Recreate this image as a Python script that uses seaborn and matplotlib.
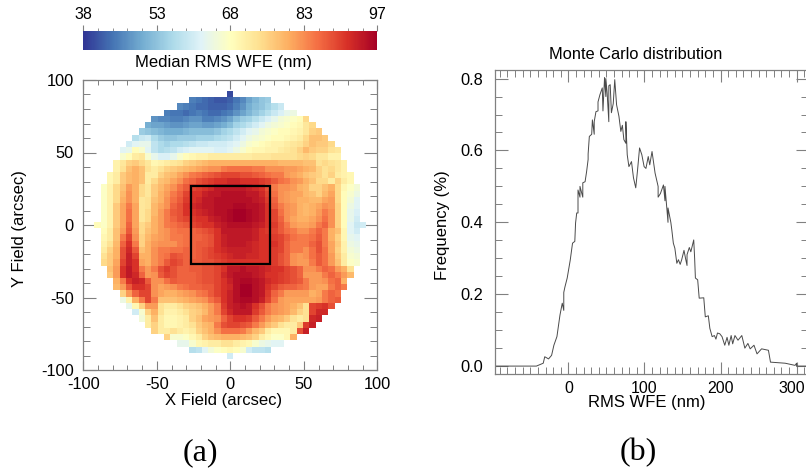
import numpy as np
import pandas as pd
import matplotlib
matplotlib.use("Agg")
import matplotlib.pyplot as plt
from matplotlib.patches import Rectangle
from matplotlib.ticker import MultipleLocator, FixedLocator
from matplotlib.transforms import ScaledTranslation
import seaborn as sns

# --- data ---
# median WFE map, rows top to bottom, each row centred on the middle column
WFE_ROWS = [
    [40],
    [45,44,43,42,41,41,42,44,46,49,51,53,54],
    [46,45,44,43,43,42,42,42,43,45,47,50,52,53,55,57,59],
    [45,44,44,43,44,45,44,43,43,44,45,47,49,51,53,55,57,59,61,63,64],
    [47,46,46,45,45,46,47,47,45,45,46,47,49,52,54,55,57,59,61,63,65,66,67,68,74],
    [50,49,49,48,47,47,48,49,49,48,48,49,50,52,55,56,58,60,62,64,65,66,67,68,69,72,74],
    [54,53,52,51,50,50,50,51,52,52,52,52,53,55,56,58,60,62,63,65,66,67,68,68,69,70,72,75,76],
    [57,59,60,56,54,53,53,54,54,54,55,55,55,56,57,58,60,62,64,65,66,67,68,68,69,70,71,74,77,77,76],
    [60,62,63,63,58,56,55,56,56,57,58,59,59,60,60,60,61,62,64,66,67,68,69,70,70,71,72,73,75,77,76,76,74],
    [62,63,68,66,62,58,56,57,58,60,61,62,62,62,62,61,61,62,64,66,68,69,69,70,70,71,72,73,75,78,76,75,75,73,72],
    [66,68,71,72,66,63,61,61,63,66,68,69,70,70,71,71,71,71,71,71,71,72,72,72,73,73,73,73,74,75,74,72,72,70,70],
    [70,72,75,76,74,72,69,70,71,72,73,75,76,77,78,79,79,79,79,79,79,79,79,79,79,79,78,78,78,78,77,77,73,74,73,72,70],
    [70,73,77,79,77,73,71,73,75,76,77,78,79,80,81,82,82,84,85,85,85,85,84,84,82,82,82,81,81,80,79,78,75,73,74,72,70],
    [69,71,76,78,79,77,71,71,75,77,78,80,82,84,85,86,87,88,89,89,89,88,88,87,86,85,84,84,81,80,79,77,76,75,73,75,71,70,69],
    [69,71,76,78,79,77,71,74,77,78,80,82,85,86,88,89,90,91,91,92,92,91,91,91,90,89,87,85,84,82,81,79,77,74,74,71,75,71,69],
    [67,70,74,77,81,79,74,72,76,78,80,82,85,87,89,90,91,92,94,94,94,94,94,93,92,91,88,84,82,82,81,79,78,75,75,77,79,74,69,67,65],
    [67,70,74,78,82,79,74,72,76,79,81,84,86,89,91,91,93,94,94,95,95,95,95,94,94,92,89,85,82,81,80,80,78,77,75,78,80,74,68,66,64],
    [67,70,74,79,82,79,72,73,77,79,82,85,87,90,91,92,94,94,95,95,95,95,95,95,94,93,90,86,82,81,80,79,79,78,78,80,81,74,68,65,62],
    [67,70,76,80,84,80,72,73,78,80,82,86,88,91,92,93,94,94,95,95,95,96,96,95,95,94,91,87,84,82,81,79,78,79,80,82,81,75,68,64,62],
    [67,70,76,80,85,80,72,74,78,81,84,87,88,91,91,92,93,94,95,95,96,97,97,96,95,94,91,89,85,82,81,79,78,79,81,84,82,75,68,63,61],
    [67,70,76,80,85,80,72,74,79,81,84,86,88,89,90,91,91,93,94,95,96,97,97,96,95,94,91,89,86,82,80,79,79,80,82,85,82,75,68,63,60],
    [68,67,70,76,80,86,80,74,76,79,81,84,85,86,87,89,90,91,91,93,94,95,95,95,95,94,93,91,90,87,84,81,80,80,81,84,86,82,75,68,62,59,60],
    [68,71,77,81,87,81,74,77,79,81,82,84,85,85,86,87,88,89,91,94,94,94,94,94,93,91,90,89,87,85,84,82,82,84,86,84,79,77,69,62,60],
    [69,71,77,84,89,82,75,78,80,81,82,84,84,85,86,86,87,88,91,93,94,94,94,94,93,91,91,90,89,87,85,84,84,85,87,84,79,75,69,63,62],
    [70,73,78,86,91,84,75,79,81,82,82,82,84,85,86,87,87,88,91,93,94,94,94,93,92,91,91,91,89,86,84,84,84,86,88,84,80,76,70,64,63],
    [71,75,79,88,92,87,77,79,82,84,84,85,85,86,86,87,88,89,91,92,93,93,93,93,92,91,91,90,89,86,84,84,82,85,88,85,80,75,70,65,64],
    [73,76,79,88,93,89,79,79,82,84,85,88,87,86,86,87,88,89,90,91,92,93,93,92,92,91,91,90,88,86,82,81,82,85,87,85,81,76,71,66,65],
    [74,76,80,89,93,91,80,79,82,84,87,89,88,86,87,87,88,88,89,90,91,91,91,91,91,91,91,90,88,86,82,81,81,84,87,85,81,77,71,67,66],
    [77,81,91,94,91,84,81,84,88,90,88,86,86,87,87,88,88,89,91,94,94,95,94,94,93,92,91,91,89,88,86,82,82,84,86,85,81,79,73],
    [76,81,91,94,92,86,81,82,87,89,88,86,86,86,87,88,88,89,92,94,95,95,95,94,93,91,91,90,89,88,86,81,81,81,84,86,84,81,78],
    [79,84,91,93,92,87,82,82,85,87,86,86,86,87,88,88,89,91,93,95,96,96,95,94,92,91,90,89,88,87,84,81,81,82,85,86,79],
    [78,81,87,91,91,89,82,80,81,82,84,85,86,86,87,87,89,91,92,95,97,97,95,94,91,89,87,86,86,85,84,81,80,80,84,86,84],
    [75,81,86,89,89,82,80,79,79,80,81,82,84,85,87,89,91,93,95,97,97,95,94,90,86,84,81,81,81,81,79,80,84,86,85],
    [64,70,79,84,89,84,77,77,77,78,79,80,81,82,85,87,91,93,95,96,96,95,93,89,85,81,80,80,80,80,80,81,84,86,87],
    [63,69,75,81,81,73,71,71,73,75,76,77,79,81,84,90,93,94,95,94,91,88,84,82,81,80,79,77,73,89,90,91,88],
    [60,66,75,79,73,70,70,71,73,75,76,78,81,84,89,92,94,94,94,90,87,84,82,81,80,78,75,73,89,92,92],
    [65,71,77,71,69,69,70,71,75,77,80,81,82,86,89,91,91,90,87,84,81,79,78,76,73,71,73,92,93],
    [71,75,71,69,69,70,71,73,76,78,79,84,88,89,89,88,87,84,81,78,76,73,71,71,76,90,93],
    [75,71,71,73,71,70,71,75,77,79,82,85,85,85,84,81,78,76,71,69,69,69,71,88,93],
    [75,66,66,67,69,71,75,77,78,79,79,79,78,77,75,71,69,67,67,69,79],
    [63,63,66,69,70,71,71,73,73,71,70,69,66,64,63,62,62],
    [57,58,62,65,67,68,69,68,66,60,58,58,57],
    [60],
]

RMS_WFE = [-96, -42, -33, -31, -26, -22, -19, -15, -11, -8, -6, -6, -4.5, -1.5, 2.5, 5.5, 8.5, 9.5, 11, 12.7, 12.7,
           15.3, 15.3, 19, 19, 22, 24, 26, 26, 27.6, 30.7, 31.6, 34, 34, 36.3, 39, 39, 41.5, 44.6, 45.5, 47.6, 49.3, 49.3,
           51, 53.2, 53.2, 55, 56.6, 59, 61, 63.4, 66.5, 69, 71, 73, 75.6, 75.6, 77.4, 79.6, 83, 85.6, 88.6, 91, 93.6,
           96.6, 99.6, 102, 105, 107, 110, 114, 118, 118, 121, 125, 127, 127, 131, 131, 134.7, 136, 138, 140, 142.6,
           144.7, 147, 149, 152, 154, 156, 156, 159, 161, 164.8, 166, 167, 170, 172, 178, 180, 184, 186, 189, 192, 194,
           196, 199, 202, 205.6, 208.6, 211, 214, 216, 219, 223, 228, 232, 236, 239, 244, 248, 254, 263, 265.7, 272,
           285, 298, 300, 300, 303, 315]
FREQUENCY = [0.0, 0.0, 0.008, 0.026, 0.02, 0.03, 0.058, 0.082, 0.142, 0.175, 0.155, 0.205, 0.22, 0.245, 0.295, 0.342,
             0.347, 0.398, 0.426, 0.426, 0.49, 0.47, 0.50, 0.47, 0.51, 0.513, 0.541, 0.575, 0.59, 0.639, 0.645, 0.685,
             0.645, 0.68, 0.708, 0.71, 0.735, 0.755, 0.774, 0.71, 0.803, 0.75, 0.80, 0.76, 0.68, 0.78, 0.783, 0.705,
             0.73, 0.797, 0.727, 0.695, 0.653, 0.67, 0.63, 0.62, 0.68, 0.588, 0.555, 0.569, 0.524, 0.496, 0.546, 0.607,
             0.588, 0.555, 0.55, 0.583, 0.56, 0.597, 0.537, 0.50, 0.47, 0.48, 0.504, 0.46, 0.50, 0.40, 0.44, 0.40,
             0.379, 0.342, 0.328, 0.286, 0.296, 0.283, 0.296, 0.322, 0.30, 0.28, 0.31, 0.33, 0.318, 0.351, 0.30, 0.245,
             0.24, 0.189, 0.19, 0.137, 0.14, 0.105, 0.082, 0.085, 0.075, 0.092, 0.09, 0.082, 0.058, 0.08, 0.058, 0.085,
             0.062, 0.085, 0.072, 0.085, 0.05, 0.063, 0.048, 0.058, 0.034, 0.048, 0.044, 0.011, 0.01, 0.008, 0.002,
             0.008, 0.0, 0.0, 0.0]

CBAR_TICKS = [38, 52.75, 67.5, 82.25, 97]
CBAR_LABELS = ["38", "53", "68", "83", "97"]
FIELD_TICKS = [-100, -50, 0, 50, 100]
BOX_HALF = 27

# size of one map cell in arcsec
CELL = 4.3

sns.set_theme(style="ticks")
plt.rcParams['font.family'] = ['Liberation Sans', 'DejaVu Sans']
plt.rcParams['axes.edgecolor'] = '#808080'
plt.rcParams['text.color'] = 'black'
plt.rcParams['axes.labelcolor'] = 'black'
plt.rcParams['xtick.labelcolor'] = 'black'
plt.rcParams['ytick.labelcolor'] = 'black'

W, H = 806, 470
GRAY = '#808080'


def axes_px(fig, left, top, right, bottom):
    return fig.add_axes([left / W, 1 - bottom / H, (right - left) / W, (bottom - top) / H])


def pad_rows(rows):
    grid = np.full((43, 43), np.nan)
    for i, row in enumerate(rows):
        start = (43 - len(row)) // 2
        grid[i, start:start + len(row)] = row
    return pd.DataFrame(grid)


def to_cell(v):
    # arcsec to heatmap cell coordinate
    return 21.5 + np.asarray(v, dtype=float) / CELL


fig = plt.figure(figsize=(W / 100, H / 100), dpi=100)

# --- (a) map ---
ax_map = axes_px(fig, 83.3, 80, 377.3, 370)
ax_cb = axes_px(fig, 83.3, 30.5, 377.3, 49.5)

sns.heatmap(pad_rows(WFE_ROWS), ax=ax_map, cmap='RdYlBu_r', vmin=38, vmax=97, cbar_ax=ax_cb,
            cbar_kws={'orientation': 'horizontal', 'ticks': CBAR_TICKS}, xticklabels=False, yticklabels=False)

ax_map.set_xlim(to_cell(-100), to_cell(100))
ax_map.set_ylim(to_cell(100), to_cell(-100))
ax_map.set_xticks(to_cell(FIELD_TICKS))
ax_map.set_xticklabels([str(t) for t in FIELD_TICKS], fontsize=11.8)
ax_map.set_yticks(to_cell(FIELD_TICKS))
ax_map.set_yticklabels([str(-t) for t in FIELD_TICKS], fontsize=11.8, rotation=0)
ax_map.xaxis.set_minor_locator(FixedLocator(to_cell(np.arange(-100, 101, 10))))
ax_map.yaxis.set_minor_locator(FixedLocator(to_cell(np.arange(-100, 101, 10))))
ax_map.tick_params(axis='x', which='major', direction='in', top=True, bottom=True, length=6.7, width=0.8, color=GRAY, pad=5)
ax_map.tick_params(axis='x', which='minor', direction='in', top=True, bottom=True, length=3.6, width=0.7, color=GRAY)
ax_map.tick_params(axis='y', which='major', direction='in', left=True, right=True, length=9.4, width=0.8, color=GRAY, pad=7)
ax_map.tick_params(axis='y', which='minor', direction='in', left=True, right=True, length=4.8, width=0.7, color=GRAY)
for s in ax_map.spines.values():
    s.set_visible(True)
    s.set_color(GRAY)
    s.set_linewidth(0.9)
fig.text(223.7 / W, 1 - 400 / H, 'X Field (arcsec)', ha='center', va='center', fontsize=12)
fig.text(20 / W, 1 - 229 / H, 'Y Field (arcsec)', ha='center', va='center', fontsize=12, rotation=90)

# field of view box
ax_map.add_patch(Rectangle((to_cell(-BOX_HALF), to_cell(-BOX_HALF)), 2 * BOX_HALF / CELL, 2 * BOX_HALF / CELL,
                           fill=False, edgecolor='black', linewidth=1.6, zorder=5))

# --- colour bar ---
ax_cb.xaxis.set_ticks_position('top')
ax_cb.set_xticks(CBAR_TICKS)
ax_cb.set_xticklabels(CBAR_LABELS, fontsize=11.5)
ax_cb.xaxis.set_minor_locator(FixedLocator(np.linspace(38, 97, 21)))
ax_cb.tick_params(axis='x', which='major', length=4.5, width=0.8, color=GRAY, pad=1.5)
ax_cb.tick_params(axis='x', which='minor', top=True, bottom=False, length=2.2, width=0.6, color=GRAY)
fig.text(223.3 / W, 1 - 62 / H, 'Median RMS WFE (nm)', ha='center', va='center', fontsize=12)

# --- (b) Monte Carlo curve ---
ax_mc = axes_px(fig, 495.3, 70.3, 808, 374)
mc = pd.DataFrame({'wfe': RMS_WFE, 'freq': FREQUENCY})
sns.lineplot(data=mc, x='wfe', y='freq', ax=ax_mc, estimator=None, sort=False, color='#4a4a4a', linewidth=0.7,
             errorbar=None)
ax_mc.set_xlabel('')
ax_mc.set_ylabel('')
ax_mc.set_xlim(-96, 315)
ax_mc.set_ylim(-0.022, 0.823)
ax_mc.xaxis.set_major_locator(MultipleLocator(100))
ax_mc.xaxis.set_minor_locator(MultipleLocator(10))
ax_mc.yaxis.set_major_locator(MultipleLocator(0.2))
ax_mc.yaxis.set_minor_locator(MultipleLocator(0.05))
ax_mc.tick_params(axis='x', which='major', direction='in', top=True, bottom=True, length=8.6, width=0.8, color=GRAY,
                  labelsize=11.5, pad=5)
ax_mc.tick_params(axis='x', which='minor', direction='in', top=True, bottom=True, length=4.8, width=0.7, color=GRAY)
ax_mc.tick_params(axis='y', which='major', direction='in', left=True, right=True, length=9, width=0.8, color=GRAY,
                  labelsize=11.8, pad=9)
ax_mc.tick_params(axis='y', which='minor', direction='in', left=True, right=True, length=5, width=0.7, color=GRAY)
for s in ax_mc.spines.values():
    s.set_color(GRAY)
    s.set_linewidth(0.9)
fig.text(647 / W, 1 - 403 / H, 'RMS WFE (nm)', ha='center', va='center', fontsize=12)
fig.text(443 / W, 1 - 225 / H, 'Frequency (%)', ha='center', va='center', fontsize=12, rotation=90)
ax_mc.set_title('Monte Carlo distribution', fontsize=11.8, pad=8, x=(636 - 495.3) / (808 - 495.3))

# the 300 label sits a little left of its tick so it stays on the page
fig.canvas.draw()
shift = ScaledTranslation(-5 / 100, 0, fig.dpi_scale_trans)
for tick in ax_mc.xaxis.get_major_ticks():
    if tick.label1.get_text() == '300':
        tick.label1.set_transform(tick.label1.get_transform() + shift)

fig.text(200 / W, 1 - 453 / H, '(a)', ha='center', va='center', fontsize=23, family='Liberation Serif')
fig.text(638 / W, 1 - 453 / H, '(b)', ha='center', va='center', fontsize=23, family='Liberation Serif')

fig.savefig('out.png', dpi=100)
